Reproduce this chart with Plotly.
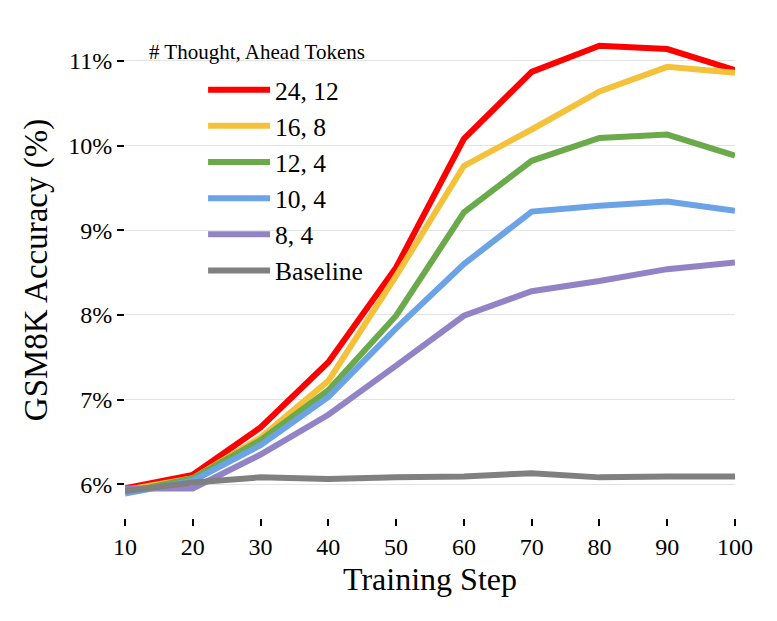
import plotly.graph_objects as go

steps = [10, 20, 30, 40, 50, 60, 70, 80, 90, 100]

# accuracy (%) per configuration
acc_24_12 = [5.95, 6.11, 6.67, 7.44, 8.56, 10.08, 10.87, 11.18, 11.14, 10.89]
acc_16_8 = [5.93, 6.07, 6.55, 7.22, 8.46, 9.76, 10.19, 10.64, 10.93, 10.86]
acc_12_4 = [5.90, 6.07, 6.52, 7.11, 7.99, 9.21, 9.82, 10.09, 10.13, 9.88]
acc_10_4 = [5.89, 6.04, 6.46, 7.03, 7.84, 8.60, 9.22, 9.29, 9.34, 9.23]
acc_8_4 = [5.95, 5.95, 6.35, 6.82, 7.40, 7.99, 8.28, 8.40, 8.54, 8.62]
acc_base = [5.92, 6.02, 6.08, 6.06, 6.08, 6.09, 6.13, 6.08, 6.09, 6.09]

names = ["24, 12", "16, 8", "12, 4", "10, 4", "8, 4", "Baseline"]
colors = ["#ff0000", "#f4c23a", "#6aaa4a", "#6ca2e6", "#9283c6", "#808080"]
series = [acc_24_12, acc_16_8, acc_12_4, acc_10_4, acc_8_4, acc_base]

yticks = [6, 7, 8, 9, 10, 11]
ytick_labels = ["6%", "7%", "8%", "9%", "10%", "11%"]

font = "Liberation Serif"

fig = go.Figure()

for name, col, vals in zip(names, colors, series):
    fig.add_trace(go.Scatter(
        x=steps, y=vals, mode="lines", name=name,
        line=dict(color=col, width=6),
    ))

# page body adds ~8px, so margins are pulled in a bit
fig.update_layout(
    width=777, height=621,
    margin=dict(l=117, r=50, t=14, b=111),
    paper_bgcolor="white", plot_bgcolor="white",
    font=dict(family=font, color="black", size=24),
    showlegend=True,
    legend=dict(
        x=0.128, y=0.91, xanchor="left", yanchor="top",
        bgcolor="rgba(0,0,0,0)", font=dict(family=font, size=25.5),
        tracegroupgap=0, itemwidth=62,
    ),
    annotations=[dict(
        text="# Thought, Ahead Tokens", xref="paper", yref="paper",
        x=0.036, y=0.94, xanchor="left", yanchor="middle",
        showarrow=False, font=dict(family=font, size=21),
    )],
)

fig.update_xaxes(
    range=[10, 100], tickvals=steps, automargin=False,
    showgrid=False, zeroline=False, showline=False,
    ticks="outside", ticklen=7, tickwidth=1.5, tickcolor="black",
    title=dict(text="Training Step", font=dict(family=font, size=32), standoff=8),
    tickfont=dict(family=font, size=24),
)
fig.update_yaxes(
    range=[5.6, 11.46], tickvals=yticks, ticktext=ytick_labels, automargin=False,
    showgrid=True, gridcolor="#e3e3e3", gridwidth=1,
    zeroline=False, showline=False,
    ticks="outside", ticklen=7, tickwidth=1.5, tickcolor="black",
    title=dict(text="GSM8K Accuracy (%)", font=dict(family=font, size=33), standoff=10),
    tickfont=dict(family=font, size=24),
)

fig.write_html("out.html")
